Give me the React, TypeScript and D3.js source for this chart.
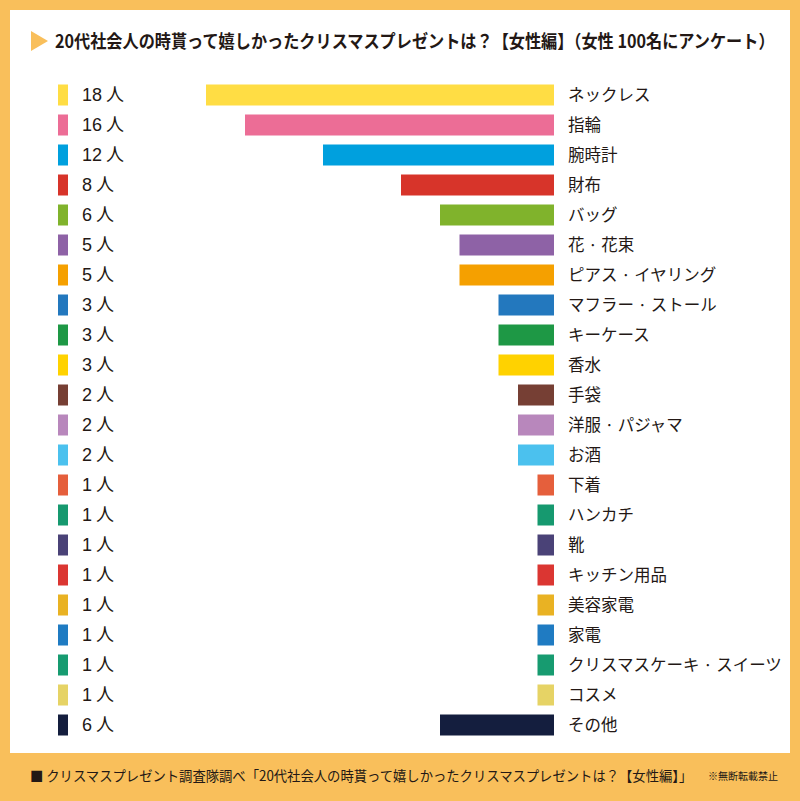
import React, { useLayoutEffect, useRef, useState } from "react";
import * as d3 from "d3";

const categories = [
  "ネックレス", "指輪", "腕時計", "財布", "バッグ", "花・花束", "ピアス・イヤリング",
  "マフラー・ストール", "キーケース", "香水", "手袋", "洋服・パジャマ", "お酒", "下着",
  "ハンカチ", "靴", "キッチン用品", "美容家電", "家電", "クリスマスケーキ・スイーツ", "コスメ", "その他",
];
const displayLabels = [
  "ネックレス", "指輪", "腕時計", "財布", "バッグ", "花 · 花束", "ピアス · イヤリング",
  "マフラー · ストール", "キーケース", "香水", "手袋", "洋服 · パジャマ", "お酒", "下着",
  "ハンカチ", "靴", "キッチン用品", "美容家電", "家電", "クリスマスケーキ · スイーツ", "コスメ", "その他",
];
const values = [18, 16, 12, 8, 6, 5, 5, 3, 3, 3, 2, 2, 2, 1, 1, 1, 1, 1, 1, 1, 1, 6];
const colors = [
  "#FFDD44", "#EC6D96", "#00A0DE", "#D7342A", "#80B32C", "#8E62A6", "#F5A000",
  "#2378BE", "#1E9845", "#FFD200", "#763F34", "#B887BC", "#4BC1EE", "#E55F3C",
  "#16996F", "#4A4277", "#DB3632", "#E9B223", "#1F7BC2", "#179B70", "#E6D365", "#141E3E",
];
const title = "20代社会人の時貰って嬉しかったクリスマスプレゼントは？【女性編】（女性 100名にアンケート）";
const footer = "■ クリスマスプレゼント調査隊調べ「20代社会人の時貰って嬉しかったクリスマスプレゼントは？【女性編】」";
const note = "※無断転載禁止";

const W = 800;
const H = 801;
const ORANGE = "#F9BF5B";
const TEXT = "#231815";
const FONT = "'Noto Sans CJK JP', 'Noto Sans', sans-serif";
const NUMFONT = "'Liberation Sans', Arial, sans-serif";

function FitText(props: {
  x: number;
  y: number;
  width: number;
  fontSize: number;
  fontWeight?: number;
  children: string;
}) {
  const ref = useRef<SVGTextElement>(null);
  const [sx, setSx] = useState(1);
  useLayoutEffect(() => {
    if (ref.current) {
      const len = ref.current.getComputedTextLength();
      if (len > 0) setSx(props.width / len);
    }
  }, [props.width, props.children]);
  return (
    <text
      ref={ref}
      transform={`translate(${props.x},${props.y}) scale(${sx},1)`}
      fontFamily={FONT}
      fontWeight={props.fontWeight ?? 400}
      fontSize={props.fontSize}
      fill={TEXT}
    >
      {props.children}
    </text>
  );
}

export default function App() {
  const barRight = 554;
  const x = d3.scaleLinear().domain([0, 18]).range([557, 206]);
  const y = d3
    .scaleBand<string>()
    .domain(categories)
    .range([80, 740])
    .paddingInner(0.3)
    .paddingOuter(0.15);
  const bh = y.bandwidth();

  return (
    <svg width={W} height={H} style={{ display: "block", position: "absolute", left: 0, top: 0 }}>
      <rect x={0} y={0} width={W} height={H} fill={ORANGE} />
      <rect x={10} y={10} width={780} height={743} fill="#FFFFFF" />
      <polygon points="31,31 48,41 31,51" fill={ORANGE} />
      <FitText x={55} y={48} width={720} fontSize={18} fontWeight={700}>
        {title}
      </FitText>
      {categories.map((c, i) => {
        const yy = y(c)!;
        const cy = yy + bh / 2;
        return (
          <g key={c}>
            <rect x={58} y={yy} width={10} height={bh} fill={colors[i]} />
            <text x={82} y={cy} dy="0.36em" fontFamily={NUMFONT} fontSize={18} fill={TEXT}>
              {values[i]}
              <tspan fontFamily={FONT} dx={4}>人</tspan>
            </text>
            <rect x={x(values[i])} y={yy} width={barRight - x(values[i])} height={bh} fill={colors[i]} />
            <text x={568} y={cy} dy="0.36em" fontFamily={FONT} fontSize={16.5} fill={TEXT}>
              {displayLabels[i]}
            </text>
          </g>
        );
      })}
      <FitText x={30} y={781} width={663} fontSize={14}>
        {footer}
      </FitText>
      <FitText x={708} y={780} width={70} fontSize={10}>
        {note}
      </FitText>
    </svg>
  );
}
